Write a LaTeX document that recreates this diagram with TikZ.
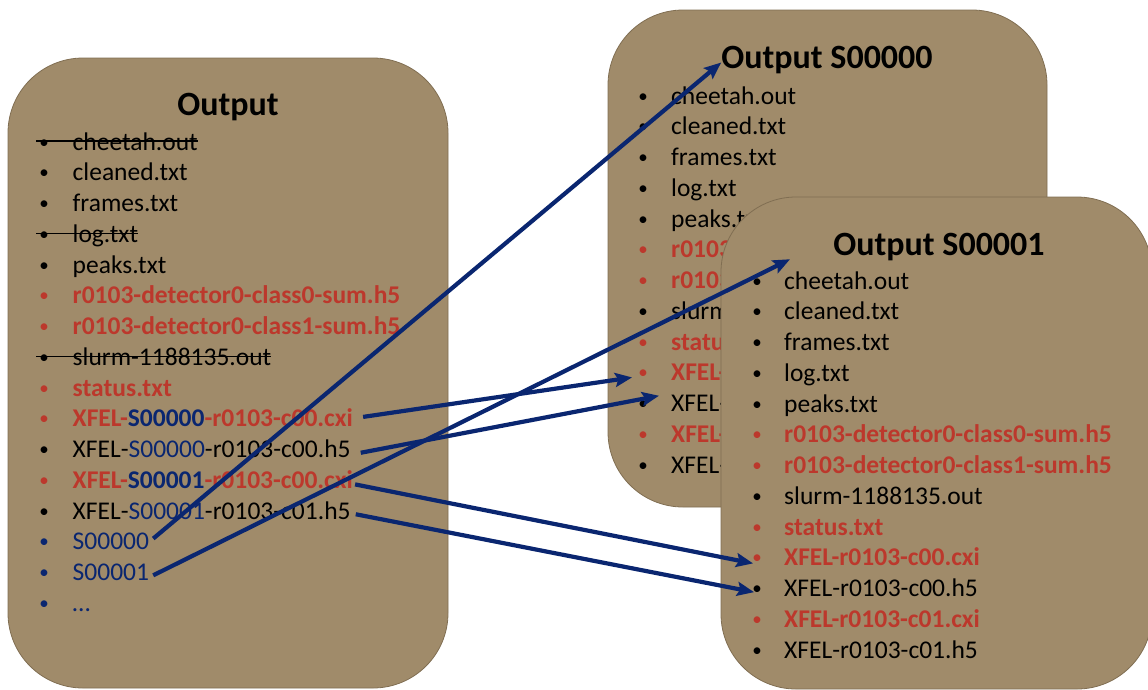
\documentclass[tikz,border=0pt]{standalone}
\usepackage{fontspec}
\setmainfont{Carlito}
\usetikzlibrary{arrows.meta}

\definecolor{boxtan}{RGB}{160,139,106}
\definecolor{boxedge}{RGB}{128,110,82}
\definecolor{hotred}{RGB}{188,56,44}
\definecolor{navy}{RGB}{10,38,112}

\newcommand\itemsize{\fontsize{25.5}{30}\selectfont}
\newcommand\dotsize{\fontsize{19}{22}\selectfont}
\newcommand\titlesize{\fontsize{34}{40}\selectfont\bfseries}

\tikzset{
  folder/.style={fill=boxtan, draw=boxedge, line width=0.8pt, rounded corners=75pt},
  heading/.style={anchor=base, inner sep=0pt, font=\titlesize},
  entry/.style={anchor=base west, inner sep=0pt, font=\itemsize},
  bulletmark/.style={anchor=base, inner sep=0pt, yshift=2pt},
  plain/.style={text=black},
  hot/.style={text=hotred},
  sid/.style={text=navy},
  strike/.style={draw=black, line width=1.3pt},
  link/.style={draw=navy, line width=4.2pt, -{Stealth[length=17pt,width=14pt,inset=3pt]}}
}

\begin{document}
\begin{tikzpicture}[x=1pt, y=-1pt]
\useasboundingbox (0,0) rectangle (1148,689);

% ---------- main output folder ----------
\draw[folder] (8,58) rectangle (448,688);
\node[heading] (title1) at (228,115) {Output};
\foreach \k/\sty/\txt in {
  1/plain/{cheetah.out},
  2/plain/{cleaned.txt},
  3/plain/{frames.txt},
  4/plain/{log.txt},
  5/plain/{peaks.txt},
  6/hot/{\bfseries r0103-detector0-class0-sum.h5},
  7/hot/{\bfseries r0103-detector0-class1-sum.h5},
  8/plain/{slurm-1188135.out},
  9/hot/{\bfseries status.txt},
  10/hot/{\bfseries XFEL-\textcolor{navy}{S00000}-r0103-c00.cxi},
  11/plain/{XFEL-\textcolor{navy}{S00000}-r0103-c00.h5},
  12/hot/{\bfseries XFEL-\textcolor{navy}{S00001}-r0103-c00.cxi},
  13/plain/{XFEL-\textcolor{navy}{S00001}-r0103-c01.h5},
  14/sid/{S00000},
  15/sid/{S00001},
  16/sid/{…}}{
  \node[bulletmark,\sty,font=\dotsize] (b1-\k) at (44,{150+30.75*(\k-1)}) {•};
  \node[entry,\sty] (t1-\k) at (72.5,{150+30.75*(\k-1)}) {\txt};
}
% removed files are struck through
\foreach \k in {1,4,8}
  \draw[strike] ([xshift=-3pt]b1-\k.west |- t1-\k.base) ++(0,-9) -- ([yshift=9pt]t1-\k.base east);

% ---------- per-run folders ----------
\draw[folder] (608,10) rectangle (1047,507);
\node[heading] (title2) at (827,68) {Output S00000};
\foreach \k/\sty/\txt in {
  1/plain/{cheetah.out},
  2/plain/{cleaned.txt},
  3/plain/{frames.txt},
  4/plain/{log.txt},
  5/plain/{peaks.txt},
  6/hot/{\bfseries r0103-detector0-class0-sum.h5},
  7/hot/{\bfseries r0103-detector0-class1-sum.h5},
  8/plain/{slurm-1188135.out},
  9/hot/{\bfseries status.txt},
  10/hot/{\bfseries XFEL-r0103-c00.cxi},
  11/plain/{XFEL-r0103-c00.h5},
  12/hot/{\bfseries XFEL-r0103-c01.cxi},
  13/plain/{XFEL-r0103-c01.h5}}{
  \node[bulletmark,\sty,font=\dotsize] (b2-\k) at (643,{104+30.75*(\k-1)}) {•};
  \node[entry,\sty] (t2-\k) at (671,{104+30.75*(\k-1)}) {\txt};
}

\draw[folder] (721,197) rectangle (1152,689);
\node[heading] (title3) at (939,255) {Output S00001};
\foreach \k/\sty/\txt in {
  1/plain/{cheetah.out},
  2/plain/{cleaned.txt},
  3/plain/{frames.txt},
  4/plain/{log.txt},
  5/plain/{peaks.txt},
  6/hot/{\bfseries r0103-detector0-class0-sum.h5},
  7/hot/{\bfseries r0103-detector0-class1-sum.h5},
  8/plain/{slurm-1188135.out},
  9/hot/{\bfseries status.txt},
  10/hot/{\bfseries XFEL-r0103-c00.cxi},
  11/plain/{XFEL-r0103-c00.h5},
  12/hot/{\bfseries XFEL-r0103-c01.cxi},
  13/plain/{XFEL-r0103-c01.h5}}{
  \node[bulletmark,\sty,font=\dotsize] (b3-\k) at (757,{289+30.75*(\k-1)}) {•};
  \node[entry,\sty] (t3-\k) at (784,{289+30.75*(\k-1)}) {\txt};
}

% ---------- where the files go ----------
\draw[link] ([xshift=4pt,yshift=3pt]t1-14.east) -- ([yshift=-3pt]title2.west);
\draw[link] ([xshift=4pt,yshift=-3pt]t1-15.east) -- ([xshift=6pt,yshift=21pt]t3-1.west);
\draw[link] ([xshift=10pt,yshift=1pt]t1-10.east) -- ([xshift=-6pt,yshift=-3pt]b2-10.west);
\draw[link] ([xshift=10pt,yshift=-4pt]t1-11.east) -- ([xshift=-12pt,yshift=7pt]t2-11.west);
\draw[link] ([xshift=2pt,yshift=-5pt]t1-12.east) -- ([xshift=1pt,yshift=-4pt]b3-10.west);
\draw[link] ([xshift=5pt,yshift=-4pt]t1-13.east) -- ([xshift=2pt,yshift=-2pt]b3-11.west);
\end{tikzpicture}
\end{document}
